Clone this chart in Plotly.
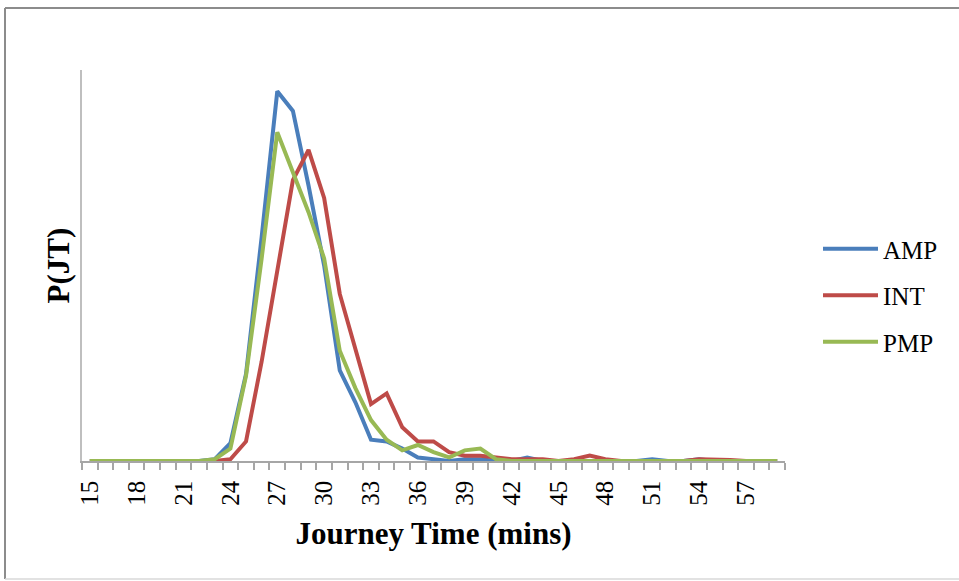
import plotly.graph_objects as go

# Journey time categories (minutes)
journey_time = list(range(15, 60))

# Probability of each journey time for the three periods
amp = [0, 0, 0, 0, 0, 0, 0, 0,
       0.001, 0.010, 0.049, 0.126, 0.208, 0.197, 0.155, 0.110, 0.051, 0.033,
       0.012, 0.011, 0.007, 0.002, 0.001, 0, 0.001, 0.001, 0, 0, 0.002,
       0, 0, 0, 0, 0, 0, 0,
       0.001, 0, 0, 0.001,
       0, 0, 0, 0, 0]
int_ = [0, 0, 0, 0, 0, 0, 0, 0, 0,
        0.001, 0.011, 0.056, 0.107, 0.158, 0.175, 0.148, 0.094, 0.063, 0.032,
        0.038, 0.019, 0.011, 0.011, 0.005, 0.003, 0.003, 0.002, 0.001, 0.001,
        0.001, 0, 0.001, 0.003, 0.001,
        0, 0, 0, 0, 0,
        0.001, 0.001, 0.0005,
        0, 0, 0]
pmp = [0, 0, 0, 0, 0, 0, 0, 0,
       0.001, 0.007, 0.048, 0.114, 0.185, 0.163, 0.140, 0.114, 0.062, 0.041,
       0.023, 0.012, 0.006, 0.009, 0.005, 0.002, 0.006, 0.007, 0.001,
       0, 0, 0, 0, 0, 0, 0, 0, 0, 0, 0, 0, 0, 0, 0, 0, 0, 0]

series = [("AMP", amp, "#4A7EBB"), ("INT", int_, "#BE4B48"), ("PMP", pmp, "#98B954")]
tick_labels = list(range(15, 60, 3))

SERIF = "Liberation Serif, Times New Roman, serif"

fig = go.Figure()
for i, (name, vals, color) in enumerate(series):
    fig.add_trace(go.Scatter(
        x=journey_time, y=vals, name=name, mode="lines",
        line=dict(color=color, width=4),
        legendgroup=name,
    ))

W, H = 959, 581
L, R, T, B = 82, 174, 70, 120
pw, ph = W - L - R, H - T - B


def px_x(v):
    return (v - L) / pw


def px_y(v):
    return (H - B - v) / ph


fig.update_layout(
    width=W, height=H,
    margin=dict(l=L, r=R, t=T, b=B),
    paper_bgcolor="white", plot_bgcolor="white",
    font=dict(family=SERIF, color="black"),
    showlegend=True,
    legend=dict(
        x=px_x(818), y=px_y(226), xanchor="left", yanchor="top",
        font=dict(size=25, family=SERIF), tracegroupgap=11,
        bgcolor="rgba(0,0,0,0)", itemwidth=55,
    ),
    xaxis=dict(
        range=[14.5, 59.5],
        tickmode="array", tickvals=tick_labels,
        ticktext=[str(t) for t in tick_labels],
        ticks="outside", ticklen=0, tickangle=-90,
        ticklabelstandoff=8,
        tickfont=dict(size=25, family=SERIF),
        showgrid=False, zeroline=False,
        showline=True, linecolor="#A6A6A6", linewidth=1.5,
        minor=dict(tickmode="linear", tick0=14.5, dtick=1, ticks="outside",
                   ticklen=7, tickcolor="#A6A6A6", tickwidth=1.5, showgrid=False),
        title=dict(text="<b>Journey Time (mins)</b>",
                   font=dict(size=31, family=SERIF), standoff=18),
    ),
    yaxis=dict(
        range=[0, 0.22],
        showticklabels=False, ticks="",
        showgrid=False, zeroline=False,
        showline=True, linecolor="#BFBFBF", linewidth=1.5,
        title=dict(text="<b>P(JT)</b>", font=dict(size=31, family=SERIF), standoff=1),
    ),
)

# Outer frame of the chart area
fig.add_shape(type="line", xref="paper", yref="paper",
              x0=px_x(5), x1=px_x(962), y0=px_y(8), y1=px_y(8),
              line=dict(color="#8C8C8C", width=2))
fig.add_shape(type="line", xref="paper", yref="paper",
              x0=px_x(5), x1=px_x(5), y0=px_y(8), y1=px_y(579),
              line=dict(color="#8C8C8C", width=2))
fig.add_shape(type="line", xref="paper", yref="paper",
              x0=px_x(5), x1=px_x(962), y0=px_y(579), y1=px_y(579),
              line=dict(color="#D9D9D9", width=1.5))

fig.write_html("out.html")
